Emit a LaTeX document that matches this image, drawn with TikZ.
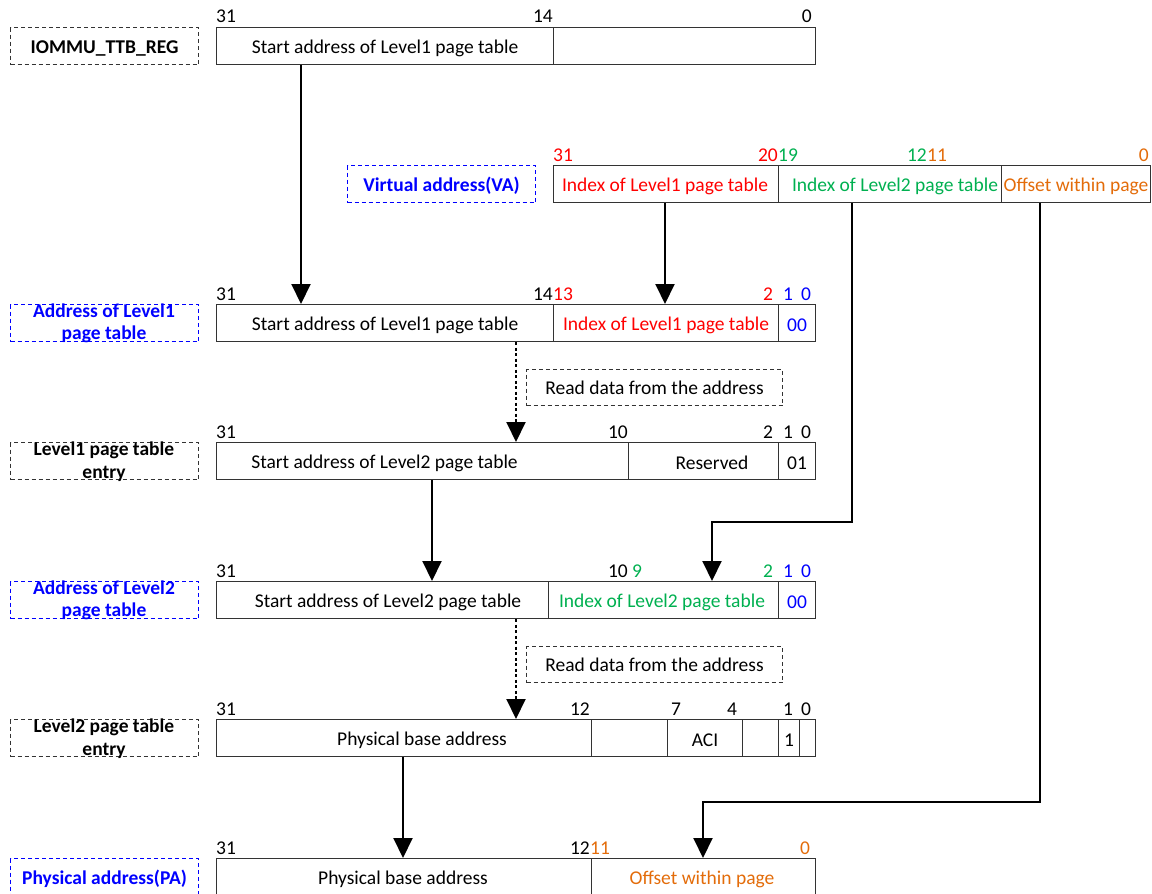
\documentclass[tikz,border=0pt]{standalone}
\usepackage{fontspec}
\setmainfont{Carlito}
\usetikzlibrary{arrows.meta,calc}
\definecolor{rd}{HTML}{FF0000}
\definecolor{gn}{HTML}{00B050}
\definecolor{og}{HTML}{E36C0A}
\definecolor{bl}{HTML}{0000FF}
\begin{document}
\begin{tikzpicture}[x=1pt,y=-1pt,
  font=\fontsize{19.5}{21}\selectfont,
  cell/.style={draw=black!80, line width=1.1pt, inner sep=0pt, minimum height=37pt, anchor=north west},
  tag/.style={draw, dash pattern=on 4pt off 3pt, line width=1.1pt, inner sep=0pt, minimum height=37pt, minimum width=188pt, anchor=north west},
  txt/.style={inner sep=0pt, yshift=-2.5pt},
  rtxt/.style={inner sep=0pt},
  bit/.style={inner sep=0pt, anchor=base},
  bw/.style={inner sep=0pt, anchor=base west},
  be/.style={inner sep=0pt, anchor=base east},
  ltxt/.style={inner sep=0pt, font=\fontsize{19.5}{22.5}\selectfont\bfseries, align=center},
  arr/.style={line width=2pt, -{Triangle[length=20pt,width=19pt]}},
  darr/.style={arr, dash pattern=on 3pt off 2.5pt},
]
\useasboundingbox (0,0) rectangle (1152,894);
\clip (0,0) rectangle (1152,894);

% ---------- Row 1: IOMMU_TTB_REG
\node[tag, draw=black!80] (L1) at (10,27) {};
\node[ltxt, yshift=-2pt] (L1t) at (L1.center) {IOMMU\_TTB\_REG};
\node[cell, minimum width=337pt] (c1a) at (216,27) {};
\node[cell, minimum width=262pt] (c1b) at (553,27) {};
\node[txt] (t1a) at (c1a.center) {Start address of Level1 page table};
\node[bw] (b1a) at (216,22) {31};
\node[be] (b1b) at (553,22) {14};
\node[be] (b1c) at (812,22) {0};

% ---------- Row 2: Virtual address
\node[tag, draw=bl, minimum width=188pt] (L2) at (347,165) {};
\node[ltxt, text=bl, yshift=-2pt] (L2t) at (L2.center) {Virtual address(VA)};
\node[cell, minimum width=225pt] (c2a) at (553,165) {};
\node[cell, minimum width=223pt] (c2b) at (778,165) {};
\node[cell, minimum width=149pt] (c2c) at (1001,165) {};
\node[txt, text=rd] (t2a) at (665,183.5) {Index of Level1 page table};
\node[txt, text=gn] (t2b) at (895,183.5) {Index of Level2 page table};
\node[txt, text=og] (t2c) at (1076,183.5) {Offset within page};
\node[bw, text=rd] (b2a) at (553,161) {31};
\node[be, text=rd] (b2b) at (778,161) {20};
\node[bw, text=gn] (b2c) at (778,161) {19};
\node[be, text=gn] (b2d) at (927,161) {12};
\node[bw, text=og] (b2e) at (927,161) {11};
\node[be, text=og] (b2f) at (1149,161) {0};

% ---------- Row 3: Address of Level1 page table
\node[tag, draw=bl] (L3) at (10,304) {};
\node[ltxt, text=bl] (L3t) at (104,323.5) {Address of Level1\\page table};
\node[cell, minimum width=337pt] (c3a) at (216,304) {};
\node[cell, minimum width=225pt] (c3b) at (553,304) {};
\node[cell, minimum width=37pt] (c3c) at (778,304) {};
\node[txt] (t3a) at (c3a.center) {Start address of Level1 page table};
\node[txt, text=rd] (t3b) at (c3b.center) {Index of Level1 page table};
\node[txt, text=bl] (t3c) at (c3c.center) {00};
\node[bw] (b3a) at (216,300) {31};
\node[be] (b3b) at (553,300) {14};
\node[bw, text=rd] (b3c) at (553,300) {13};
\node[bit, text=rd] (b3d) at (768,300) {2};
\node[bit, text=bl] (b3e) at (788,300) {1};
\node[bit, text=bl] (b3f) at (806,300) {0};

% read box 1
\node[tag, draw=black!80, minimum width=256pt, minimum height=36pt] (R1) at (526,369) {};
\node[rtxt] (R1t) at (R1.center) {Read data from the address};

% ---------- Row 4: Level1 page table entry
\node[tag, draw=black!80] (L4) at (10,442) {};
\node[ltxt] (L4t) at (104,461.5) {Level1 page table\\entry};
\node[cell, minimum width=412pt] (c4a) at (216,442) {};
\node[cell, minimum width=150pt] (c4b) at (628,442) {};
\node[cell, minimum width=37pt] (c4c) at (778,442) {};
\node[txt] (t4a) at (384.5,460.5) {Start address of Level2 page table};
\node[txt] (t4b) at (712,460.5) {Reserved};
\node[txt] (t4c) at (c4c.center) {01};
\node[bw] (b4a) at (216,438) {31};
\node[be] (b4b) at (628,438) {10};
\node[bit] (b4c) at (768,438) {2};
\node[bit] (b4d) at (788,438) {1};
\node[bit] (b4e) at (806,438) {0};

% ---------- Row 5: Address of Level2 page table
\node[tag, draw=bl] (L5) at (10,581) {};
\node[ltxt, text=bl] (L5t) at (104,600.5) {Address of Level2\\page table};
\node[cell, minimum width=332pt] (c5a) at (216,581) {};
\node[cell, minimum width=230pt] (c5b) at (548,581) {};
\node[cell, minimum width=37pt] (c5c) at (778,581) {};
\node[txt] (t5a) at (388,599.5) {Start address of Level2 page table};
\node[txt, text=gn] (t5b) at (662,599.5) {Index of Level2 page table};
\node[txt, text=bl] (t5c) at (c5c.center) {00};
\node[bw] (b5a) at (216,577) {31};
\node[be] (b5b) at (628,577) {10};
\node[bit, text=gn] (b5c) at (637,577) {9};
\node[bit, text=gn] (b5d) at (768,577) {2};
\node[bit, text=bl] (b5e) at (788,577) {1};
\node[bit, text=bl] (b5f) at (806,577) {0};

% read box 2
\node[tag, draw=black!80, minimum width=256pt, minimum height=36pt] (R2) at (526,646) {};
\node[rtxt] (R2t) at (R2.center) {Read data from the address};

% ---------- Row 6: Level2 page table entry
\node[tag, draw=black!80] (L6) at (10,719) {};
\node[ltxt] (L6t) at (104,738.5) {Level2 page table\\entry};
\node[cell, minimum width=375pt] (c6a) at (216,719) {};
\node[cell, minimum width=76pt] (c6b) at (591,719) {};
\node[cell, minimum width=75pt] (c6c) at (667,719) {};
\node[cell, minimum width=36pt] (c6d) at (742,719) {};
\node[cell, minimum width=21pt] (c6e) at (778,719) {};
\node[cell, minimum width=16pt] (c6f) at (799,719) {};
\node[txt] (t6a) at (422,737.5) {Physical base address};
\node[txt] (t6c) at (c6c.center) {ACI};
\node[txt] (t6e) at (c6e.center) {1};
\node[bw] (b6a) at (216,715) {31};
\node[be] (b6b) at (590,715) {12};
\node[bit] (b6c) at (676,715) {7};
\node[bit] (b6d) at (732,715) {4};
\node[bit] (b6e) at (788,715) {1};
\node[bit] (b6f) at (806,715) {0};

% ---------- Row 7: Physical address
\node[tag, draw=bl] (L7) at (10,858) {};
\node[ltxt, text=bl, yshift=-2pt] (L7t) at (L7.center) {Physical address(PA)};
\node[cell, minimum width=375pt] (c7a) at (216,858) {};
\node[cell, minimum width=224pt] (c7b) at (591,858) {};
\node[txt] (t7a) at (403,876.5) {Physical base address};
\node[txt, text=og] (t7b) at (702,876.5) {Offset within page};
\node[bw] (b7a) at (216,854) {31};
\node[be] (b7b) at (590,854) {12};
\node[bw, text=og] (b7c) at (590,854) {11};
\node[bit, text=og] (b7d) at (805,854) {0};

% ---------- connectors
\coordinate (x1) at (301,0);
\coordinate (x2) at (665,0);
\coordinate (x3) at (516,0);
\coordinate (x4) at (432,0);
\coordinate (x7) at (403,0);
\coordinate (k5) at (852,522);
\coordinate (k5b) at (712,522);
\coordinate (k8) at (1040,802);
\coordinate (k8b) at (703,802);

\draw[arr] (x1 |- c1a.south) -- (x1 |- c3a.north);
\draw[arr] (x2 |- c2a.south) -- (x2 |- c3b.north);
\draw[darr] (x3 |- c3a.south) -- (x3 |- c4a.north);
\draw[arr] (x4 |- c4a.south) -- (x4 |- c5a.north);
\draw[arr] (k5 |- c2b.south) -- (k5) -- (k5b) -- (k5b |- c5b.north);
\draw[darr] (x3 |- c5a.south) -- (x3 |- c6a.north);
\draw[arr] (x7 |- c6a.south) -- (x7 |- c7a.north);
\draw[arr] (k8 |- c2c.south) -- (k8) -- (k8b) -- (k8b |- c7b.north);
\end{tikzpicture}
\end{document}
